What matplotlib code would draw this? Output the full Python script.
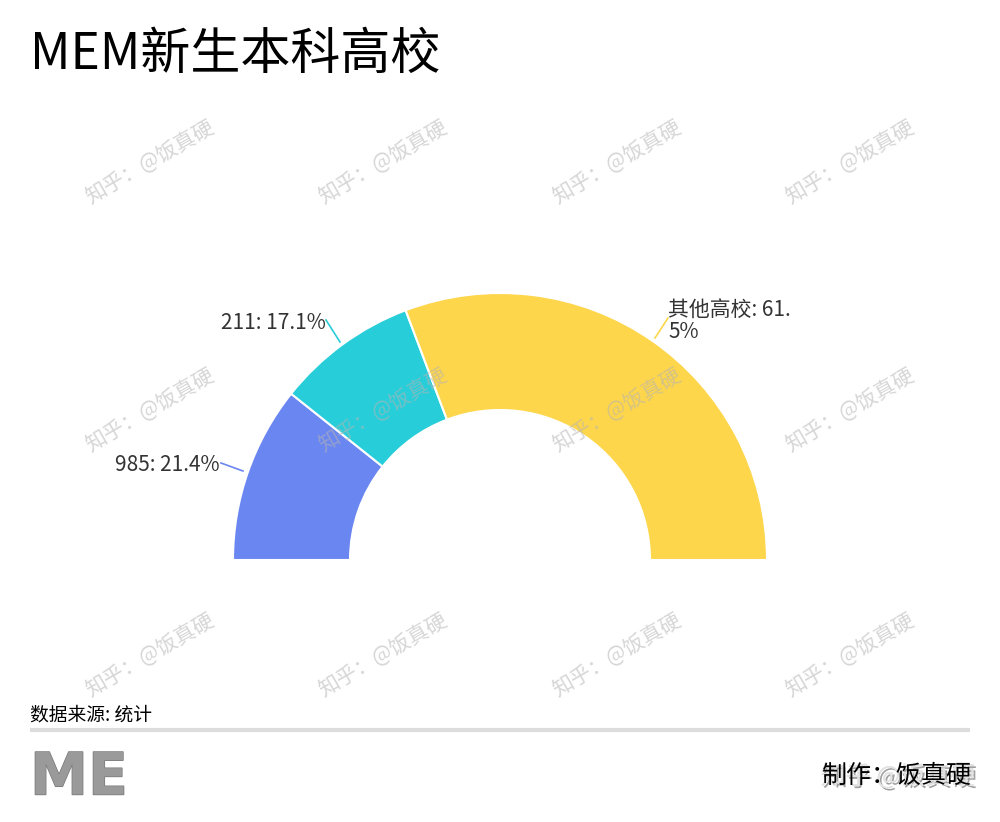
import matplotlib
matplotlib.use("Agg")
import matplotlib.pyplot as plt
import matplotlib.patheffects as pe

plt.rcParams['font.family'] = ['Noto Sans CJK SC', 'DejaVu Sans']

title = "MEM新生本科高校"
categories = ["985", "211", "其他高校"]
shares = [21.4, 17.1, 61.5]
label_texts = ["985: 21.4%", "211: 17.1%", "其他高校: 61.\n5%"]
colors = ["#6a86f1", "#27ced9", "#fed64b"]
source_text = "数据来源: 统计"
maker_text = "制作：饭真硬"
watermark = "知乎：@饭真硬"

W, H = 1000, 822
fig = plt.figure(figsize=(W / 100, H / 100), dpi=100)
ax = fig.add_axes([0, 0, 1, 1])

cx, cy = 500, H - 560
R_out, R_in = 267, 150

vals = shares + [sum(shares)]
cols = colors + ["none"]
wedges, _ = ax.pie(vals, colors=cols, startangle=180, counterclock=False,
                   center=(cx, cy), radius=R_out,
                   wedgeprops=dict(width=R_out - R_in, edgecolor="white", linewidth=1.5))
wedges[-1].set_edgecolor("none")

ax.set_xlim(0, W)
ax.set_ylim(0, H)
ax.set_aspect("equal")
ax.axis("off")

# labels with leader lines (pixel coordinates from top)
label_pos = [(220, 465, "right"), (326, 323, "right"), (668, 321, "left")]
line_pts = [((221, 463), (243, 471)), ((326, 320), (340, 342)), ((668, 318), (655, 338))]
for txt, (lx, ly, ha), (p0, p1), c in zip(label_texts, label_pos, line_pts, colors):
    ax.text(lx, H - ly, txt, ha=ha, va="center", fontsize=15, color="#333333",
            linespacing=0.95)
    ax.plot([p0[0], p1[0]], [H - p0[1], H - p1[1]], color=c, lw=1.2)

# title
fig.text(30 / W, 1 - 55 / H, title, fontsize=36, color="black", va="center", ha="left")

# watermarks
for wy in (162, 410, 655):
    for wx in (150, 383, 617, 850):
        ax.text(wx, H - wy, watermark, fontsize=15, color="#b4b4b4", alpha=0.55,
                rotation=30, ha="center", va="center", zorder=5)

# footer
fig.text(30 / W, 1 - 715 / H, source_text, fontsize=13.5, color="black", va="center", ha="left")
ax.plot([30, 970], [H - 730, H - 730], color="#dddddd", lw=3, solid_capstyle="butt")

fig.text(30 / W, 1 - 778 / H, "ME", fontsize=42, fontweight="bold", color="#9a9a9a",
         va="center", ha="left", family="DejaVu Sans",
         path_effects=[pe.withStroke(linewidth=1, foreground="#777777")])

fig.text(975 / W, 1 - 777 / H, "知乎 @饭真硬", fontsize=18, color="#e2e2e2",
         va="center", ha="right",
         path_effects=[pe.withSimplePatchShadow(offset=(1.5, -1.5), shadow_rgbFace="#a0a0a0", alpha=1.0), pe.Normal()])
fig.text(972 / W, 1 - 776 / H, maker_text, fontsize=18, color="black",
         va="center", ha="right")

fig.savefig("out.png", dpi=100, facecolor="white")
